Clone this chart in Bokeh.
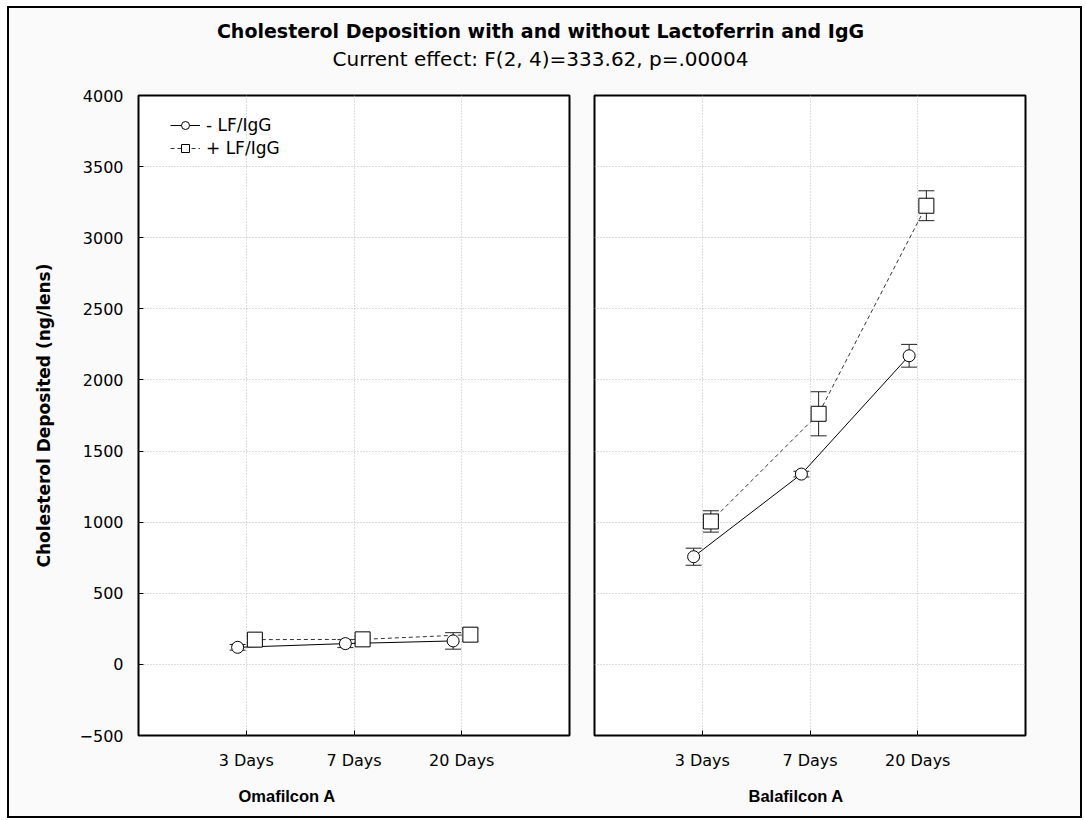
import numpy as np
from bokeh.plotting import figure
from bokeh.models import (ColumnDataSource, Whisker, TeeHead, FixedTicker,
                          Range1d, Label, Legend, LegendItem, Title)
from bokeh.layouts import column, row
from bokeh.embed import file_html
from bokeh.resources import INLINE

# ---- data ----
days = ["3 Days", "7 Days", "20 Days"]
lenses = ["Omafilcon A", "Balafilcon A"]
oma_minus = [120, 146, 165]
oma_minus_err = [20, 28, 58]
oma_plus = [174, 176, 209]
oma_plus_err = [25, 22, 45]
bala_minus = [757, 1338, 2170]
bala_minus_err = [60, 20, 80]
bala_plus = [1005, 1762, 3225]
bala_plus_err = [75, 155, 105]
yticks = [-500, 0, 500, 1000, 1500, 2000, 2500, 3000, 3500, 4000]
series_labels = ["- LF/IgG", "+ LF/IgG"]

title_text = "Cholesterol Deposition with and without Lactoferrin and IgG"
subtitle_text = "Current effect: F(2, 4)=333.62, p=.00004"
ylabel = "Cholesterol Deposited (ng/lens)"

FONT = "DejaVu Sans"
FONT2 = "Liberation Sans"
BG = "#fafafa"
pos = np.arange(1, len(days) + 1)
dodge = 0.08


def panel(width, left_b, right_b, lens, lens_offset, minus, minus_err, plus, plus_err,
          show_y, legend):
    p = figure(width=width, height=738, output_backend="svg", toolbar_location=None,
               x_range=Range1d(0, 4), y_range=Range1d(-500, 4000),
               min_border_left=left_b, min_border_right=right_b,
               min_border_top=17, min_border_bottom=81)
    p.background_fill_color = "white"
    p.border_fill_color = BG
    p.outline_line_color = "black"
    p.outline_line_width = 2

    xt = FixedTicker(ticks=list(pos))
    yt = FixedTicker(ticks=yticks)
    p.xaxis.ticker = xt
    p.yaxis.ticker = yt
    p.xaxis.major_label_overrides = {int(k): d for k, d in zip(pos, days)}
    p.xaxis.major_label_standoff = 15
    for ax in (p.xaxis, p.yaxis):
        ax.axis_line_color = None
        ax.major_tick_in = 5
        ax.major_tick_out = 0
        ax.minor_tick_line_color = None
        ax.major_tick_line_color = "black"
        ax.major_label_text_font = FONT
        ax.major_label_text_font_size = "16px"
        ax.major_label_text_color = "black"
    if show_y:
        p.yaxis.axis_label = ylabel
        p.yaxis.axis_label_text_font = FONT
        p.yaxis.axis_label_text_font_style = "bold"
        p.yaxis.axis_label_text_font_size = "17px"
        p.yaxis.axis_label_text_color = "black"
        p.yaxis.axis_label_standoff = 23
        p.yaxis.major_label_standoff = 15
    else:
        p.yaxis.visible = False

    t = Title(text=lens, align="left", offset=lens_offset, standoff=24,
              text_font=FONT2, text_font_size="16.5px", text_font_style="bold",
              text_color="black")
    p.add_layout(t, "below")

    p.grid.grid_line_color = "#bdbdbd"
    p.grid.grid_line_dash = "1 2"
    p.xgrid.ticker = xt
    p.ygrid.ticker = yt

    src_m = ColumnDataSource(dict(x=pos - dodge, y=minus,
                                  lower=np.array(minus) - np.array(minus_err),
                                  upper=np.array(minus) + np.array(minus_err)))
    src_p = ColumnDataSource(dict(x=pos + dodge, y=plus,
                                  lower=np.array(plus) - np.array(plus_err),
                                  upper=np.array(plus) + np.array(plus_err)))

    lm = p.line("x", "y", source=src_m, line_color="black", line_width=1)
    lp = p.line("x", "y", source=src_p, line_color="#333333", line_width=1, line_dash="4 3")
    mm = p.scatter("x", "y", source=src_m, marker="circle", size=12,
                   fill_color="white", line_color="black", line_width=1)
    mp = p.scatter("x", "y", source=src_p, marker="square", size=15,
                   fill_color="white", line_color="black", line_width=1)
    for s in (src_m, src_p):
        w = Whisker(source=s, base="x", upper="upper", lower="lower", dimension="height",
                    line_color="#222222", line_width=1,
                    upper_head=TeeHead(size=16, line_color="#222222"),
                    lower_head=TeeHead(size=16, line_color="#222222"))
        p.add_layout(w)

    if legend:
        lg = Legend(items=[LegendItem(label=series_labels[0], renderers=[lm, mm]),
                           LegendItem(label=series_labels[1], renderers=[lp, mp])],
                    location=(32, 577))
        lg.margin = 0
        lg.padding = 0
        lg.spacing = 3
        lg.glyph_width = 30
        lg.glyph_height = 20
        lg.label_height = 20
        lg.label_standoff = 6
        lg.label_text_font = FONT
        lg.label_text_font_size = "17px"
        lg.label_text_color = "black"
        lg.background_fill_alpha = 0
        lg.border_line_color = None
        p.add_layout(lg)
    return p


p1 = panel(573, 129, 13, lenses[0], 100, oma_minus, oma_minus_err, oma_plus, oma_plus_err,
           True, True)
p2 = panel(498, 12, 55, lenses[1], 154, bala_minus, bala_minus_err, bala_plus, bala_plus_err,
           False, False)

header = figure(width=1071, height=70, output_backend="svg", toolbar_location=None,
                x_range=Range1d(0, 1071), y_range=Range1d(0, 70),
                min_border_left=0, min_border_right=0, min_border_top=0, min_border_bottom=0)
header.axis.visible = False
header.grid.visible = False
header.outline_line_color = None
header.background_fill_color = BG
header.border_fill_color = BG
header.add_layout(Label(x=531, y=48, text=title_text, text_align="center", text_baseline="middle",
                        text_font=FONT, text_font_size="19px", text_font_style="bold",
                        text_color="black"))
header.add_layout(Label(x=531, y=20, text=subtitle_text, text_align="center", text_baseline="middle",
                        text_font=FONT, text_font_size="20px", text_color="black"))

layout = column(header, row(p1, p2),
                styles={"border": "2px solid black", "background-color": BG,
                        "margin-left": "7px", "margin-top": "6px"})

open("out.html", "w").write(file_html(layout, INLINE))
